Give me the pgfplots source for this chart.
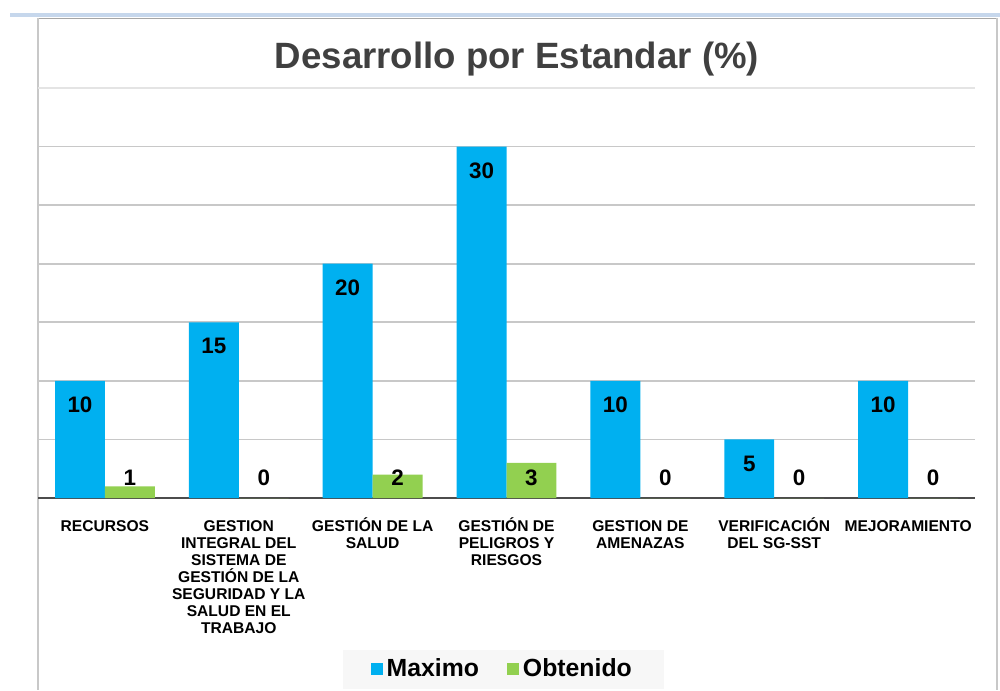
\documentclass[border=0pt]{standalone}
\usepackage{pgfplots}
\pgfplotsset{compat=1.18}
\usepackage{fontspec}
\setmainfont{Liberation Sans}
\definecolor{cblue}{HTML}{00B0F0}
\definecolor{cgreen}{HTML}{92D050}
\definecolor{ctitle}{HTML}{404040}
\definecolor{cgrid}{HTML}{C8C8C8}
\definecolor{cgridl}{HTML}{E4E4E4}
\definecolor{ctop}{HTML}{C6D7EC}
\newcommand\ph{\vphantom{Ó}}
\begin{document}
\begin{tikzpicture}
\useasboundingbox (0,0) rectangle (500pt,345pt);
\fill[white] (0,0) rectangle (500pt,345pt);
\draw[ctop, line width=2pt] (5pt,337.5pt) -- (500pt,337.5pt);
\draw[gray!70, line width=0.6pt] (18.5pt,335.8pt) -- (498.5pt,335.8pt);
\draw[cgrid, line width=0.8pt] (19pt,335.8pt) -- (19pt,0pt);
\draw[cgrid, line width=0.8pt] (498.5pt,335.8pt) -- (498.5pt,0pt);
\node[font=\bfseries\fontsize{18.3}{20}\selectfont, text=ctitle] at (258.5pt,315.5pt) {Desarrollo por Estandar (\%)};
\begin{axis}[
  at={(19pt,96pt)}, anchor=south west,
  scale only axis, width=468.5pt, height=205pt,
  xmin=-0.5, xmax=6.5, ymin=0, ymax=35,
  axis x line*=bottom, axis y line*=left,
  y axis line style={draw=none},
  x axis line style={draw=black!70, line width=0.8pt},
  ymajorgrids, ytick={5,10,15,20,25,30}, yticklabels={},
  major grid style={cgrid, line width=0.8pt},
  extra y ticks={35}, extra y tick labels={},
  extra y tick style={grid=major, major grid style={cgridl, line width=0.8pt}},
  xtick={0,...,6}, major tick length=0pt,
  xticklabels={\ph RECURSOS,
    {\ph GESTION\\INTEGRAL DEL\\SISTEMA DE\\GESTIÓN DE LA\\SEGURIDAD Y LA\\SALUD EN EL\\TRABAJO},
    {\ph GESTIÓN DE LA\\SALUD},
    {\ph GESTIÓN DE\\PELIGROS Y\\RIESGOS},
    {\ph GESTION DE\\AMENAZAS},
    {\ph VERIFICACIÓN\\DEL SG-SST},
    \ph MEJORAMIENTO},
  xticklabel style={font=\bfseries\fontsize{7.8}{8.5}\selectfont, align=center, anchor=north, yshift=-6.4pt},
  ybar, bar width=0.373,
  legend style={at={(0.4965,-0.418)}, anchor=center, fill=black!3, draw=none,
    inner xsep=14pt, inner ysep=2.5pt,
    font=\bfseries\fontsize{12.4}{14}\selectfont, legend columns=2,
    /tikz/every even column/.append style={column sep=12pt}},
  legend image code/.code={\fill[#1] (0pt,-3pt) rectangle (6pt,3pt);},
  clip=false,
]
\addplot[fill=cblue, draw=none, bar shift=-0.1865,
  nodes near coords, point meta=explicit symbolic,
  every node near coord/.append style={anchor=center, yshift=-12pt, font=\bfseries\fontsize{11.2}{13}\selectfont, text=black}]
  coordinates {(0,10)[10] (1,15)[15] (2,20)[20] (3,30)[30] (4,10)[10] (5,5)[5] (6,10)[10]};
\addlegendentry{Maximo}
\addplot[fill=cgreen, draw=none, bar shift=0.1865]
  coordinates {(0,1) (1,0) (2,2) (3,3) (4,0) (5,0) (6,0)};
\addlegendentry{Obtenido}
\addplot[draw=none, fill=none, bar shift=0.1865, forget plot,
  nodes near coords, point meta=explicit symbolic,
  every node near coord/.append style={anchor=center, font=\bfseries\fontsize{11.2}{13}\selectfont, text=black}]
  coordinates {(0,1.7)[1] (1,1.7)[0] (2,1.7)[2] (3,1.7)[3] (4,1.7)[0] (5,1.7)[0] (6,1.7)[0]};
\end{axis}
\end{tikzpicture}
\end{document}
